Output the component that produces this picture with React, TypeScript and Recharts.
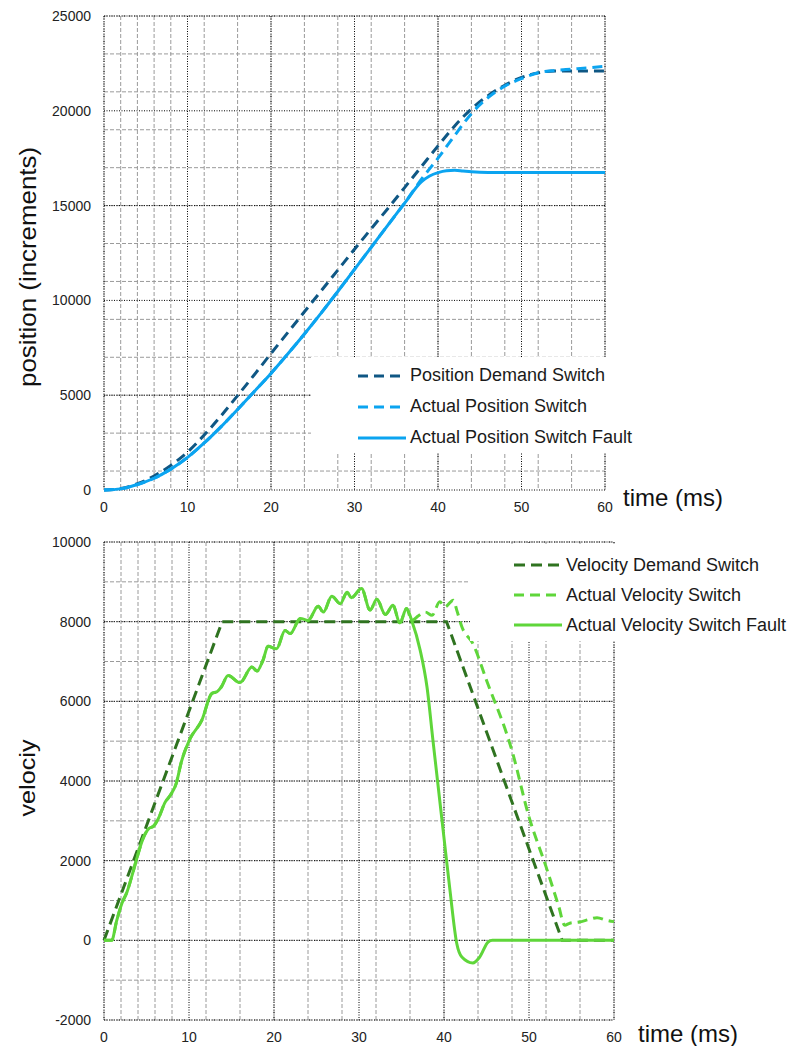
import { LineChart, Line, XAxis, YAxis, CartesianGrid, Legend, Label } from "recharts"

// ---- position chart (top) ----
const posTime = [0, 2, 4, 6, 8, 10, 12, 14, 16, 18, 20, 22, 24, 26, 28, 30, 32, 34, 36, 38, 40, 42, 44, 46, 48, 50, 52, 54, 56, 58, 60]
const posDemand = [0, 80, 330, 740, 1300, 2000, 2900, 3900, 4980, 6080, 7200, 8300, 9400, 10500, 11600, 12700, 13780, 14850, 15950, 17050, 18150, 19200, 20100, 20800, 21350, 21760, 22000, 22100, 22100, 22100, 22100]

// actual position, shared until the switch/fault split
const posCommonTime = [0, 2, 4, 6, 8, 10, 12, 14, 16, 18, 20, 22, 24, 26, 28, 30, 32, 34, 36]
const posCommon = [0, 60, 290, 620, 1100, 1720, 2480, 3330, 4250, 5200, 6150, 7170, 8230, 9330, 10470, 11640, 12800, 13970, 15130]

const posSwitchTailTime = [38, 40, 42, 44, 46, 48, 50, 52, 54, 56, 58, 60]
const posSwitchTail = [16380, 17500, 18700, 19850, 20700, 21300, 21700, 22010, 22130, 22200, 22270, 22350]

const posFaultTailTime = [38, 39, 40, 41, 42, 43, 44, 46, 50, 55, 60]
const posFaultTail = [16250, 16560, 16740, 16840, 16860, 16820, 16780, 16750, 16750, 16750, 16750]

const posNames = ["Position Demand Switch", "Actual Position Switch", "Actual Position Switch Fault"]

// ---- velocity chart (bottom) ----
const velDemandTime = [0, 13.9, 40.3, 53.9, 60]
const velDemand = [0, 8000, 8000, 0, 0]

const velCommonTime = [0, 0.9, 1.5, 2.1, 2.7, 3.3, 3.85, 4.6, 5.3, 5.8, 6.4, 7.2, 7.8, 8.5, 9.1, 10.1, 11.5, 12.7, 13.3, 13.8, 14.6, 16.0, 17.4, 18.0, 18.7, 19.3, 20.3, 21.3, 21.9, 23.1, 24.0, 25.2, 25.8, 26.8, 27.8, 28.6, 29.1, 30.3, 31.3, 32.1, 33.1, 34.0, 34.8, 35.6, 36.2]
const velCommon = [0, 0, 500, 925, 1210, 1630, 2050, 2560, 2810, 2860, 3060, 3470, 3640, 3940, 4480, 5050, 5520, 6200, 6240, 6360, 6650, 6470, 6860, 6760, 7030, 7380, 7320, 7780, 7700, 8080, 8030, 8390, 8240, 8640, 8450, 8740, 8600, 8830, 8290, 8560, 8180, 8410, 7970, 8330, 8030]

const velSwitchTailTime = [37.0, 37.8, 38.6, 39.5, 40.1, 41.1, 41.5, 42.1, 43.4, 45.0, 48.0, 50.0, 52.0, 53.5, 54.2, 54.8, 55.9, 57.0, 58.0, 59.2, 60]
const velSwitchTail = [8150, 8240, 8160, 8500, 8370, 8540, 8290, 7870, 7450, 6530, 4760, 3100, 1850, 850, 380, 430, 460, 520, 570, 500, 470]

const velFaultTailTime = [37.2, 38.0, 38.7, 39.9, 40.7, 41.5, 42.1, 43.4, 44.2, 45.2, 45.7, 60]
const velFaultTail = [7280, 6360, 5020, 2760, 1260, -80, -420, -570, -420, -40, 0, 0]

const velNames = ["Velocity Demand Switch", "Actual Velocity Switch", "Actual Velocity Switch Fault"]

// ---- axes ----
const timeTicks = [0, 10, 20, 30, 40, 50, 60]
const posTicks = [0, 5000, 10000, 15000, 20000, 25000]
const velTicks = [-2000, 0, 2000, 4000, 6000, 8000, 10000]

const FONT = '"Liberation Sans", Arial, Helvetica, sans-serif'
const POS_DARK = "#0f5784"
const POS_LIGHT = "#0ba4f0"
const VEL_DARK = "#2f7320"
const VEL_LIGHT = "#5fd63a"

const steps = (from: number, to: number, step: number) =>
  Array.from({ length: Math.round((to - from) / step) + 1 }, (_, i) => from + i * step)

const toPoints = (ts: number[], vs: number[]) => ts.map((t, i) => ({ t, v: vs[i] }))

function LegendBox({ payload, order, padTop, padLeft, rowHeight }: any) {
  const items = [...(payload || [])].sort((a: any, b: any) => order.indexOf(a.value) - order.indexOf(b.value))
  return (
    <div style={{ background: "#fff", paddingTop: padTop, paddingLeft: padLeft, boxSizing: "border-box", height: "100%" }}>
      {items.map((entry: any) => (
        <div key={entry.value} style={{ display: "flex", alignItems: "center", height: rowHeight }}>
          <svg width={48} height={6} style={{ display: "block" }}>
            <line
              x1={0}
              y1={3}
              x2={48}
              y2={3}
              stroke={entry.color}
              strokeWidth={3}
              strokeDasharray={entry.payload?.strokeDasharray}
            />
          </svg>
          <span style={{ marginLeft: 4, fontSize: 18, color: "#1a1a1a", whiteSpace: "nowrap" }}>{entry.value}</span>
        </div>
      ))}
    </div>
  )
}

const yTitle = (text: string, dy: number, fontSize: number, length: number) => (props: any) => {
  const vb = props.viewBox
  const x = vb.x - 17
  const y = vb.y + vb.height / 2 + dy
  return (
    <text
      x={x}
      y={y}
      transform={`rotate(-90 ${x} ${y})`}
      textAnchor="middle"
      dominantBaseline="central"
      fontSize={fontSize}
      textLength={length}
      lengthAdjust="spacingAndGlyphs"
      fill="#111"
    >
      {text}
    </text>
  )
}

const xTitle = (dx: number, dy: number) => (props: any) => {
  const vb = props.viewBox
  return (
    <text x={vb.x + vb.width + dx} y={vb.y + dy} dominantBaseline="central" fontSize={24} fill="#111">
      time (ms)
    </text>
  )
}

const tickStyle = { fontSize: 14, fill: "#222" }

export default function App() {
  const minorX = steps(0, 60, 2)

  return (
    <div style={{ position: "absolute", left: 0, top: 0, width: 791, height: 1046, background: "#fff", fontFamily: FONT }}>
      {/* POSITION */}
      <div style={{ position: "absolute", left: 0, top: 0 }}>
        <LineChart width={791} height={530} margin={{ top: 16, right: 186, bottom: 10, left: 44 }}>
          <CartesianGrid horizontalValues={steps(0, 25000, 1000)} verticalValues={minorX} stroke="#9a9a9a" strokeDasharray="4 2" />
          <CartesianGrid horizontalValues={posTicks} verticalValues={timeTicks} stroke="#000" strokeDasharray="1 1.5" />
          <XAxis
            type="number"
            dataKey="t"
            domain={[0, 60]}
            ticks={timeTicks}
            axisLine={false}
            tickLine={false}
            tickSize={0}
            tickMargin={12}
            height={30}
            tick={tickStyle}
          >
            <Label content={xTitle(18, 7.5)} />
          </XAxis>
          <YAxis
            type="number"
            domain={[0, 25000]}
            ticks={posTicks}
            axisLine={false}
            tickLine={false}
            tickSize={0}
            tickMargin={13}
            width={60}
            tick={tickStyle}
          >
            <Label content={yTitle("position (increments)", 14, 24, 240)} />
          </YAxis>
          <Legend
            layout="vertical"
            align="center"
            verticalAlign="middle"
            wrapperStyle={{ left: 311, top: 357, width: 330, height: 96 }}
            content={(p: any) => <LegendBox {...p} order={posNames} padTop={3} padLeft={47} rowHeight={31} />}
          />
          <Line
            data={toPoints(posTime, posDemand)}
            dataKey="v"
            name={posNames[0]}
            type="monotone"
            stroke={POS_DARK}
            strokeWidth={3}
            strokeDasharray="10 6"
            dot={false}
            activeDot={false}
            isAnimationActive={false}
          />
          <Line
            data={toPoints([...posCommonTime, ...posSwitchTailTime], [...posCommon, ...posSwitchTail])}
            dataKey="v"
            name={posNames[1]}
            type="monotone"
            stroke={POS_LIGHT}
            strokeWidth={3}
            strokeDasharray="10 6"
            dot={false}
            activeDot={false}
            isAnimationActive={false}
          />
          <Line
            data={toPoints([...posCommonTime, ...posFaultTailTime], [...posCommon, ...posFaultTail])}
            dataKey="v"
            name={posNames[2]}
            type="monotone"
            stroke={POS_LIGHT}
            strokeWidth={3}
            dot={false}
            activeDot={false}
            isAnimationActive={false}
          />
        </LineChart>
      </div>

      {/* VELOCITY */}
      <div style={{ position: "absolute", left: 0, top: 520 }}>
        <LineChart width={791} height={526} margin={{ top: 22, right: 177, bottom: 0, left: 44 }}>
          <CartesianGrid horizontalValues={steps(-2000, 10000, 500)} verticalValues={minorX} stroke="#9a9a9a" strokeDasharray="4 2" />
          <CartesianGrid horizontalValues={velTicks} verticalValues={timeTicks} stroke="#000" strokeDasharray="1 1.5" />
          <XAxis
            type="number"
            dataKey="t"
            domain={[0, 60]}
            ticks={timeTicks}
            axisLine={false}
            tickLine={false}
            tickSize={0}
            tickMargin={12}
            height={26}
            tick={tickStyle}
          >
            <Label content={xTitle(24, 13.5)} />
          </XAxis>
          <YAxis
            type="number"
            domain={[-2000, 10000]}
            ticks={velTicks}
            axisLine={false}
            tickLine={false}
            tickSize={0}
            tickMargin={13}
            width={60}
            tick={tickStyle}
          >
            <Label content={yTitle("velociy", -3, 22, 77)} />
          </YAxis>
          <Legend
            layout="vertical"
            align="center"
            verticalAlign="middle"
            wrapperStyle={{ left: 470, top: 24, width: 321, height: 97 }}
            content={(p: any) => <LegendBox {...p} order={velNames} padTop={6} padLeft={44} rowHeight={30} />}
          />
          <Line
            data={toPoints(velDemandTime, velDemand)}
            dataKey="v"
            name={velNames[0]}
            type="linear"
            stroke={VEL_DARK}
            strokeWidth={3}
            strokeDasharray="11 6"
            dot={false}
            activeDot={false}
            isAnimationActive={false}
          />
          <Line
            data={toPoints([...velCommonTime, ...velSwitchTailTime], [...velCommon, ...velSwitchTail])}
            dataKey="v"
            name={velNames[1]}
            type="monotone"
            stroke={VEL_LIGHT}
            strokeWidth={3}
            strokeDasharray="10 6"
            dot={false}
            activeDot={false}
            isAnimationActive={false}
          />
          <Line
            data={toPoints([...velCommonTime, ...velFaultTailTime], [...velCommon, ...velFaultTail])}
            dataKey="v"
            name={velNames[2]}
            type="monotone"
            stroke={VEL_LIGHT}
            strokeWidth={3}
            dot={false}
            activeDot={false}
            isAnimationActive={false}
          />
        </LineChart>
      </div>
    </div>
  )
}
